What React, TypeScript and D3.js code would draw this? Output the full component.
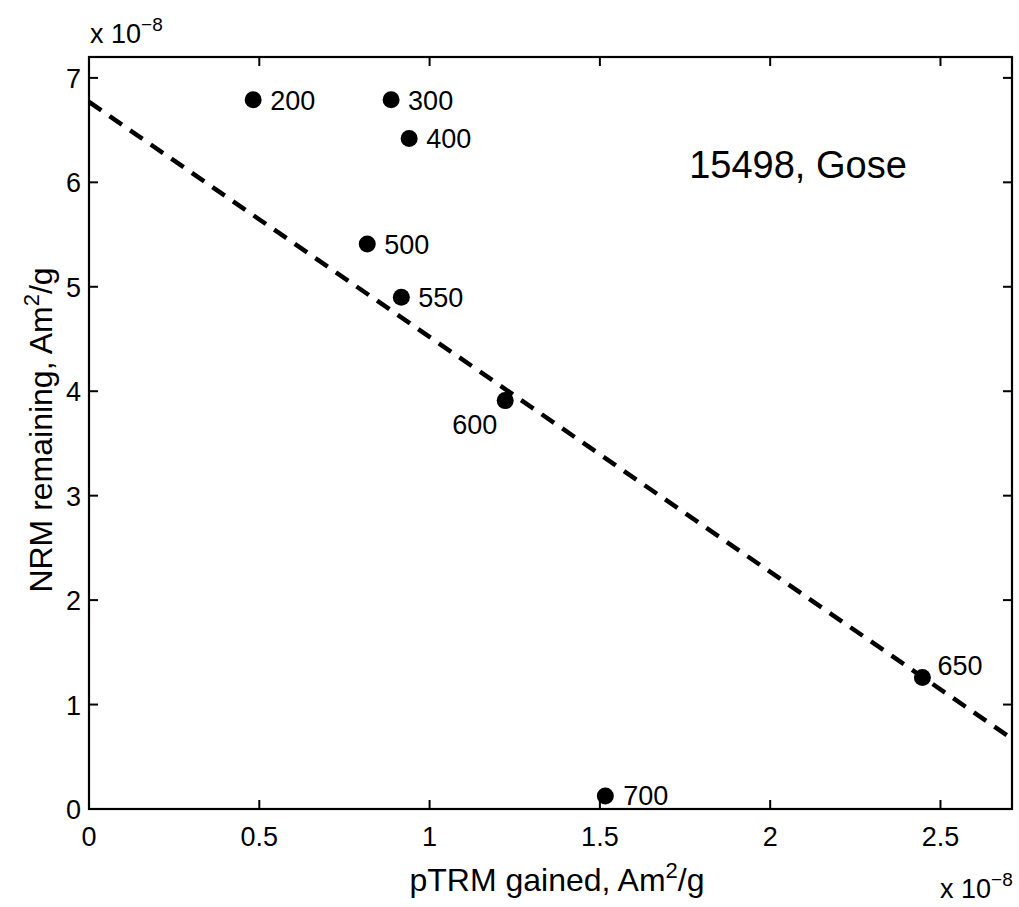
import React from "react";
import * as d3 from "d3";

// Data (units of 1e-8 Am^2/g)
const stepLabels = ["200", "300", "400", "500", "550", "600", "650", "700"];
const pTRMgained = [0.482, 0.887, 0.94, 0.817, 0.917, 1.222, 2.447, 1.516];
const NRMremaining = [6.79, 6.79, 6.42, 5.41, 4.9, 3.91, 1.26, 0.125];
const xTicks = [0, 0.5, 1, 1.5, 2, 2.5];
const yTicks = [0, 1, 2, 3, 4, 5, 6, 7];
const fitIntercept = 6.77;
const fitSlope = -2.25;
const xDomain = [0, 2.71];
const yDomain = [0, 7.2];

// label offsets (px) relative to points: [dx, dy, anchor]
const labelOffsets: [number, number, string][] = [
  [17, 10, "start"],
  [17, 10, "start"],
  [17, 10, "start"],
  [17, 10, "start"],
  [17, 10, "start"],
  [-8, 33, "end"],
  [15, -2, "start"],
  [18, 9, "start"],
];

const W = 1019;
const H = 907;
const L = 89;
const R = 1012;
const T = 57;
const B = 809;
const FONT = "'Liberation Sans', Arial, Helvetica, sans-serif";

export default function App() {
  const x = d3.scaleLinear().domain(xDomain).range([L, R]);
  const y = d3.scaleLinear().domain(yDomain).range([B, T]);
  const tickLen = 9;
  const line = d3
    .line<number>()
    .x((d) => x(d))
    .y((d) => y(fitIntercept + fitSlope * d));

  return (
    <svg
      width={W}
      height={H}
      style={{ position: "absolute", left: 0, top: 0, background: "#fff" }}
      fontFamily={FONT}
    >
      <rect x={0} y={0} width={W} height={H} fill="#fff" />
      <defs>
        <clipPath id="plotclip">
          <rect x={L} y={T} width={R - L} height={B - T} />
        </clipPath>
      </defs>
      {/* fit line */}
      <path
        d={line(xDomain) || ""}
        fill="none"
        stroke="#000"
        strokeWidth={4.5}
        strokeDasharray="15 10"
        clipPath="url(#plotclip)"
      />
      {/* points */}
      {pTRMgained.map((v, i) => (
        <circle key={i} cx={x(v)} cy={y(NRMremaining[i])} r={8.5} fill="#000" />
      ))}
      {stepLabels.map((s, i) => (
        <text
          key={s}
          x={x(pTRMgained[i]) + labelOffsets[i][0]}
          y={y(NRMremaining[i]) + labelOffsets[i][1]}
          textAnchor={labelOffsets[i][2] as any}
          fontSize={27}
          fill="#000"
        >
          {s}
        </text>
      ))}
      {/* frame */}
      <rect x={L} y={T} width={R - L} height={B - T} fill="none" stroke="#000" strokeWidth={2.2} />
      {/* x ticks */}
      {xTicks.map((t) => (
        <g key={"x" + t}>
          <line x1={x(t)} x2={x(t)} y1={B} y2={B - tickLen} stroke="#000" strokeWidth={2} />
          <line x1={x(t)} x2={x(t)} y1={T} y2={T + tickLen} stroke="#000" strokeWidth={2} />
          <text x={x(t)} y={846} textAnchor="middle" fontSize={27} fill="#000">
            {String(t)}
          </text>
        </g>
      ))}
      {/* y ticks */}
      {yTicks.map((t) => (
        <g key={"y" + t}>
          <line x1={L} x2={L + tickLen} y1={y(t)} y2={y(t)} stroke="#000" strokeWidth={2} />
          <line x1={R} x2={R - tickLen} y1={y(t)} y2={y(t)} stroke="#000" strokeWidth={2} />
          <text x={81} y={y(t) + 10} textAnchor="end" fontSize={27} fill="#000">
            {String(t)}
          </text>
        </g>
      ))}
      {/* exponent labels */}
      <text x={90} y={43} fontSize={27} fill="#000">
        x 10
        <tspan dy={-12} fontSize={19}>−8</tspan>
      </text>
      <text x={940} y={898} fontSize={27} fill="#000">
        x 10
        <tspan dy={-12} fontSize={19}>−8</tspan>
      </text>
      {/* annotation */}
      <text x={798} y={178} textAnchor="middle" fontSize={38} fill="#000">
        15498, Gose
      </text>
      {/* axis labels */}
      <text x={557} y={891} textAnchor="middle" fontSize={32} fill="#000">
        pTRM gained, Am<tspan dy={-13} fontSize={22}>2</tspan>
        <tspan dy={13}>/g</tspan>
      </text>
      <text
        transform={`translate(52, 430) rotate(-90)`}
        textAnchor="middle"
        fontSize={32}
        fill="#000"
      >
        NRM remaining, Am<tspan dy={-13} fontSize={22}>2</tspan>
        <tspan dy={13}>/g</tspan>
      </text>
    </svg>
  );
}
